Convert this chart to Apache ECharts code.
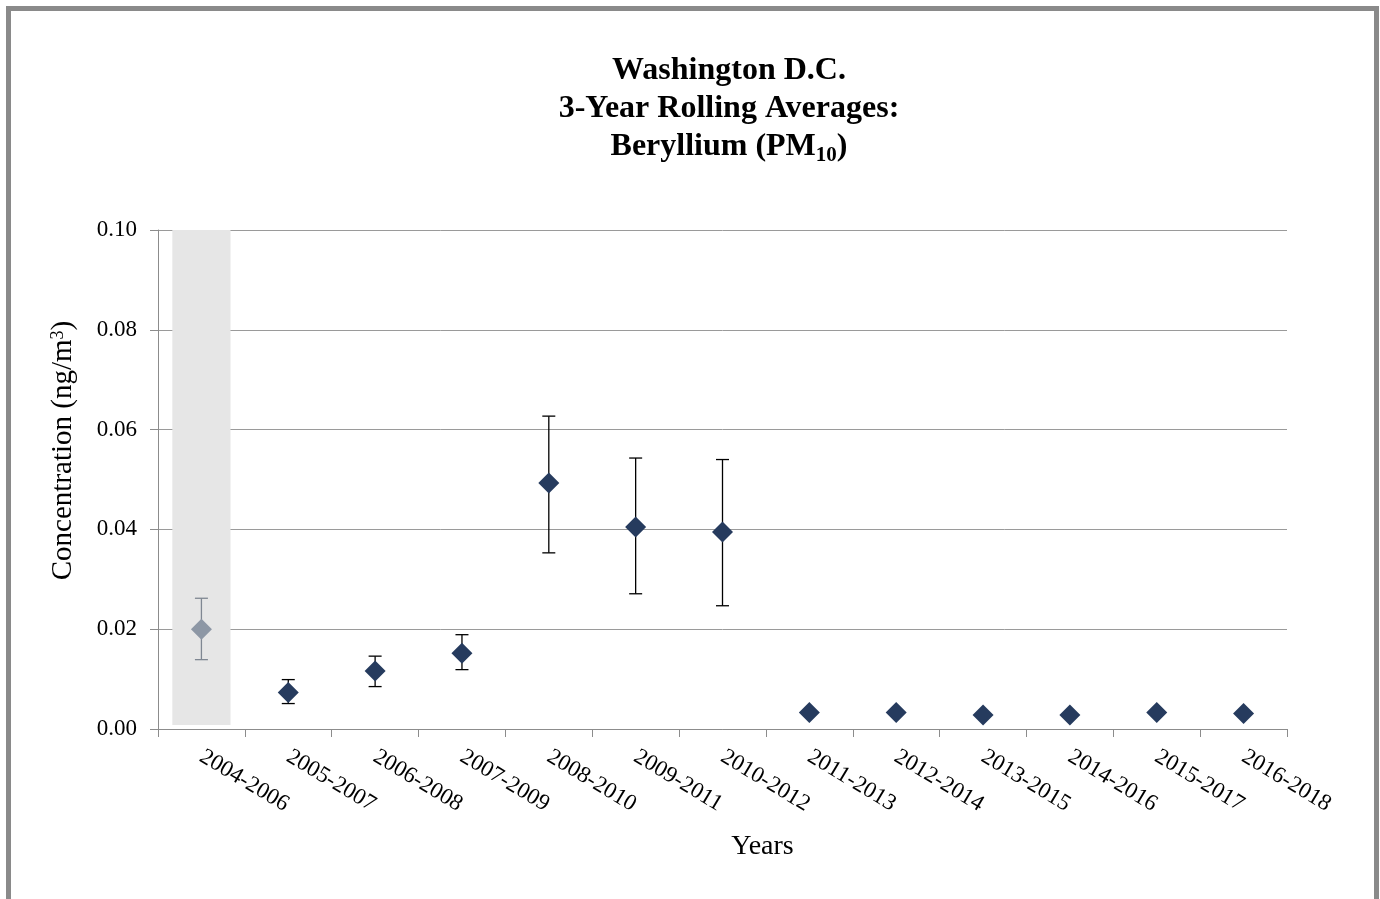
<!DOCTYPE html>
<html>
<head>
<meta charset="utf-8">
<script src="https://cdn.jsdelivr.net/npm/echarts@6/dist/echarts.min.js"></script>
<style>
html,body{margin:0;padding:0;background:#fff;}
#chart{position:absolute;left:0;top:0;width:1380px;height:899px;}
#frame{position:absolute;left:6px;top:6px;width:1363px;height:1000px;border:5px solid #8a8a8a;pointer-events:none;}
</style>
</head>
<body>
<div id="chart"></div>
<div id="frame"></div>
<script>
const categories = ['2004-2006','2005-2007','2006-2008','2007-2009','2008-2010','2009-2011','2010-2012','2011-2013','2012-2014','2013-2015','2014-2016','2015-2017','2016-2018'];
const values =   [0.0200, 0.0073, 0.0116, 0.0152, 0.0493, 0.0405, 0.0395, 0.0033, 0.0033, 0.0028, 0.0028, 0.0033, 0.0031];
const errLow =   [0.0139, 0.0051, 0.0085, 0.0119, 0.0353, 0.0271, 0.0247, null, null, null, null, null, null];
const errHigh =  [0.0262, 0.0099, 0.0146, 0.0189, 0.0627, 0.0543, 0.0540, null, null, null, null, null, null];
const shadedIndex = [0];
const shadeBottom = 0.0008;
const shadeTop = 0.1;
const yTicks = { min: 0, max: 0.1, interval: 0.02 };

const serif = 'Liberation Serif';
const navy = '#263b5e';
const greyPt = '#8d97a5';

const chart = echarts.init(document.getElementById('chart'));

const baseData = categories.map((c, i) => shadedIndex.includes(i) ? shadeBottom : '-');
const shadeData = categories.map((c, i) => shadedIndex.includes(i) ? shadeTop - shadeBottom : '-');
const scatterData = values.map((v, i) => ({
  value: v,
  itemStyle: { color: shadedIndex.includes(i) ? greyPt : navy, opacity: 1 }
}));
const errData = [];
values.forEach((v, i) => { if (errLow[i] != null) errData.push([i, errLow[i], errHigh[i]]); });

chart.setOption({
  animation: false,
  title: {
    text: 'Washington D.C.\n3-Year Rolling Averages:\nBeryllium (PM{sub|10})',
    left: 724, top: 47, textAlign: 'center',
    textStyle: {
      fontFamily: serif, fontWeight: 'bold', fontSize: 32, lineHeight: 38, color: '#000',
      rich: { sub: { fontFamily: serif, fontWeight: 'bold', fontSize: 21, lineHeight: 22, verticalAlign: 'bottom', color: '#000' } }
    }
  },
  grid: { left: 158, right: 93, top: 230, bottom: 170, containLabel: false },
  xAxis: {
    type: 'category',
    data: categories,
    boundaryGap: true,
    name: 'Years',
    nameLocation: 'middle',
    nameGap: 104,
    nameTextStyle: { fontFamily: serif, fontSize: 28, color: '#000', padding: [0, 0, 0, 80] },
    axisLine: { lineStyle: { color: '#8c8c8c', width: 1 } },
    axisTick: { show: true, length: 8, alignWithLabel: false, lineStyle: { color: '#8c8c8c' } },
    axisLabel: { rotate: -31, margin: 26, fontFamily: serif, fontSize: 23, color: '#000', interval: 0 },
    splitLine: { show: false }
  },
  yAxis: {
    type: 'value',
    min: yTicks.min, max: yTicks.max, interval: yTicks.interval,
    name: 'Concentration (ng/m{sup|3})',
    nameLocation: 'middle',
    nameRotate: 90,
    nameGap: 80,
    nameTextStyle: {
      fontFamily: serif, fontSize: 29, color: '#000', padding: [0, 0, 0, 58],
      rich: { sup: { fontFamily: serif, fontSize: 18, verticalAlign: 'top', lineHeight: 16, color: '#000' } }
    },
    axisLine: { show: true, lineStyle: { color: '#8c8c8c', width: 1 } },
    axisTick: { show: true, length: 8, lineStyle: { color: '#8c8c8c' } },
    axisLabel: { margin: 21, fontFamily: serif, fontSize: 23, color: '#000', formatter: v => v.toFixed(2) },
    splitLine: { show: true, lineStyle: { color: '#9a9a9a', width: 1 } }
  },
  series: [
    { type: 'bar', stack: 'shade', data: baseData, barWidth: '67%', barCategoryGap: '33%', itemStyle: { color: 'rgba(0,0,0,0)' }, silent: true, z: 1 },
    { type: 'bar', stack: 'shade', data: shadeData, barWidth: '67%', itemStyle: { color: '#e6e6e6' }, silent: true, z: 1 },
    {
      type: 'custom',
      data: errData,
      z: 3,
      renderItem: function (params, api) {
        const i = api.value(0);
        const lo = api.coord([i, api.value(1)]);
        const hi = api.coord([i, api.value(2)]);
        const half = 6.5;
        const color = shadedIndex.includes(i) ? '#7f8792' : '#000';
        const st = { stroke: color, lineWidth: 1.3 };
        return {
          type: 'group',
          children: [
            { type: 'line', shape: { x1: lo[0], y1: lo[1], x2: hi[0], y2: hi[1] }, style: st },
            { type: 'line', shape: { x1: hi[0] - half, y1: hi[1], x2: hi[0] + half, y2: hi[1] }, style: st },
            { type: 'line', shape: { x1: lo[0] - half, y1: lo[1], x2: lo[0] + half, y2: lo[1] }, style: st }
          ]
        };
      }
    },
    { type: 'scatter', data: scatterData, symbol: 'diamond', symbolSize: [21, 21], z: 5 }
  ]
});
</script>
</body>
</html>
